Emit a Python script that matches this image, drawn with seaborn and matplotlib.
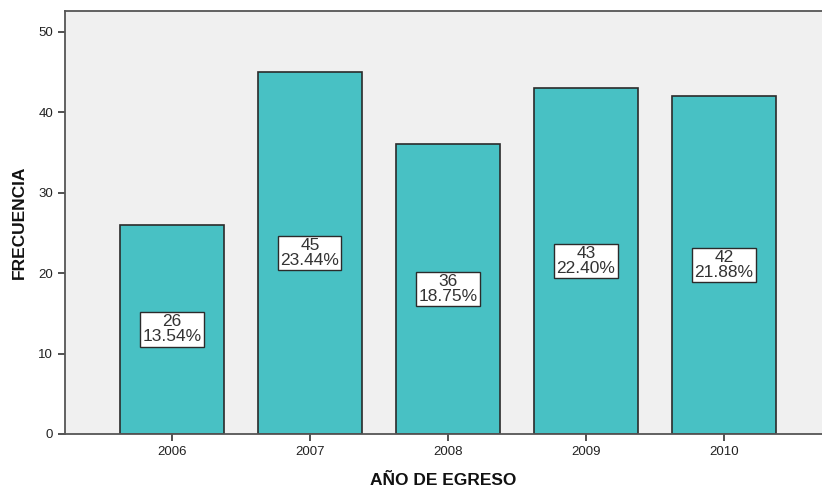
import pandas as pd
import matplotlib.pyplot as plt
import seaborn as sns

# data
years = ['2006', '2007', '2008', '2009', '2010']
counts = [26, 45, 36, 43, 42]
percents = ['13.54%', '23.44%', '18.75%', '22.40%', '21.88%']

df = pd.DataFrame({'anio': years, 'frecuencia': counts})

sns.set_style('white')
plt.rcParams['font.family'] = ['Liberation Sans', 'DejaVu Sans']

fig = plt.figure(figsize=(8.22, 4.87), dpi=100)
ax = fig.add_axes([65 / 822, 1 - 434 / 487, 1 - 65 / 822, (434 - 11) / 487])
ax.set_facecolor('#f0f0f0')

sns.barplot(data=df, x='anio', y='frecuencia', color='#48c1c4', saturation=1,
            width=0.75, edgecolor='#2b2b2b', linewidth=1.2, ax=ax)

# count + percent boxes at half height of each bar
for i, (c, p) in enumerate(zip(counts, percents)):
    ax.text(i, c / 2, f'{c}\n{p}', ha='center', va='center', fontsize=12.5,
            color='#333333', linespacing=1.0,
            bbox=dict(boxstyle='square,pad=0.12', fc='white', ec='#2b2b2b', lw=1))

ax.set_xlim(-0.775, 4.71)
ax.set_ylim(0, 52.6)
ax.set_yticks([0, 10, 20, 30, 40, 50])
ax.tick_params(axis='both', length=5, width=1.2, color='#333333',
               labelsize=9.5, labelcolor='#222222', left=True, bottom=True)

for side in ['left', 'bottom', 'top']:
    ax.spines[side].set_color('#555555')
    ax.spines[side].set_linewidth(1.3)
ax.spines['right'].set_visible(False)

ax.set_xlabel('AÑO DE EGRESO', fontsize=12.5, fontweight='bold', labelpad=11,
              color='#111111')
ax.set_ylabel('FRECUENCIA', fontsize=12.5, fontweight='bold', labelpad=8,
              color='#111111')

plt.savefig('out.png', dpi=100)
